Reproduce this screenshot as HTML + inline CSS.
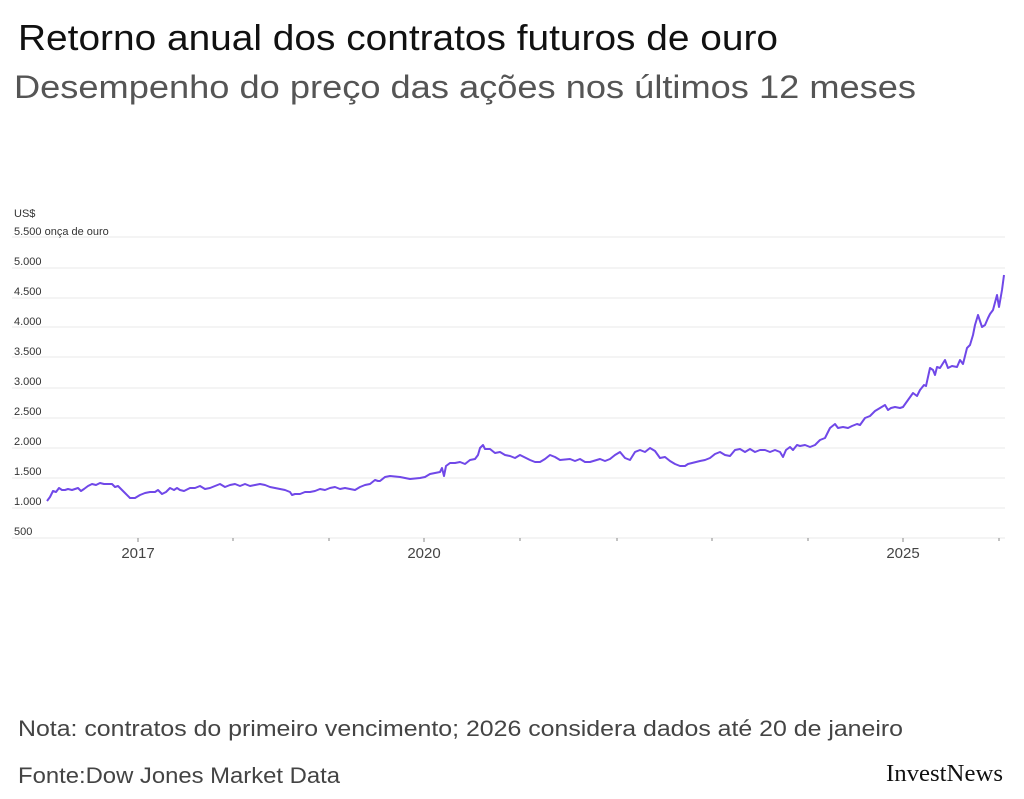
<!DOCTYPE html>
<html><head><meta charset="utf-8"><style>
html,body{margin:0;padding:0;background:#fff;}
svg{display:block;font-family:"Liberation Sans",sans-serif;}
</style></head><body>
<svg width="1024" height="799" viewBox="0 0 1024 799" xmlns="http://www.w3.org/2000/svg">
<text x="18" y="50" font-size="36" fill="#111" textLength="760" lengthAdjust="spacingAndGlyphs">Retorno anual dos contratos futuros de ouro</text>
<text x="14" y="98" font-size="32" fill="#555" textLength="902" lengthAdjust="spacingAndGlyphs">Desempenho do preço das ações nos últimos 12 meses</text>
<g stroke="#eeeeee" stroke-width="1.3">
<line x1="12" x2="1005" y1="237" y2="237"/><line x1="12" x2="1005" y1="268" y2="268"/>
<line x1="12" x2="1005" y1="298" y2="298"/><line x1="12" x2="1005" y1="327" y2="327"/>
<line x1="12" x2="1005" y1="357" y2="357"/><line x1="12" x2="1005" y1="388" y2="388"/>
<line x1="12" x2="1005" y1="418" y2="418"/><line x1="12" x2="1005" y1="448" y2="448"/>
<line x1="12" x2="1005" y1="478" y2="478"/><line x1="12" x2="1005" y1="508" y2="508"/>
<line x1="12" x2="1005" y1="538" y2="538"/>
</g>
<g font-size="11" fill="#333">
<text x="14" y="217">US$</text>
<text x="14" y="235">5.500 onça de ouro</text>
<text x="14" y="265">5.000</text><text x="14" y="295">4.500</text>
<text x="14" y="325">4.000</text><text x="14" y="355">3.500</text>
<text x="14" y="385">3.000</text><text x="14" y="415">2.500</text>
<text x="14" y="445">2.000</text><text x="14" y="475">1.500</text>
<text x="14" y="505">1.000</text><text x="14" y="535">500</text>
</g>
<g stroke="#888" stroke-width="1">
<line x1="138" x2="138" y1="538" y2="542"/><line x1="233" x2="233" y1="538" y2="541"/>
<line x1="329" x2="329" y1="538" y2="541"/><line x1="424" x2="424" y1="538" y2="542"/>
<line x1="520" x2="520" y1="538" y2="541"/><line x1="617" x2="617" y1="538" y2="541"/>
<line x1="712" x2="712" y1="538" y2="541"/><line x1="808" x2="808" y1="538" y2="541"/>
<line x1="903" x2="903" y1="538" y2="542"/><line x1="999" x2="999" y1="538" y2="541"/>
</g>
<g font-size="15" fill="#444" text-anchor="middle">
<text x="138" y="558">2017</text><text x="424" y="558">2020</text><text x="903" y="558">2025</text>
</g>
<polyline fill="none" stroke="#7048e8" stroke-width="2" stroke-linejoin="round" points="47,501 50,497 53,491 56,492 59,488 62,490 65,490 68,489 72,490 75,489 78,488 81,491 84,489 88,486 92,484 96,485 100,483 104,484 108,484 112,484 115,487 118,486 122,490 125,493 130,498 135,498 140,495 145,493 150,492 155,492 158,490 162,494 166,492 170,488 174,490 177,488 180,490 184,491 190,488 195,488 200,486 205,489 210,488 215,486 220,484 225,487 230,485 235,484 240,486 245,484 250,486 255,485 260,484 265,485 270,487 275,488 280,489 285,490 290,492 292,495 295,494 300,494 305,492 310,492 315,491 320,489 325,490 330,488 335,487 340,489 345,488 350,489 355,490 360,487 365,485 370,484 375,480 378,481 380,481 385,477 390,476 400,477 410,479 420,478 425,477 430,474 440,472 442,468 444,476 446,466 450,463 455,463 460,462 465,464 470,460 475,459 478,455 480,448 483,445 485,449 490,449 495,453 500,452 505,455 510,456 515,458 520,455 530,460 535,462 540,462 545,459 550,455 555,457 560,460 570,459 575,461 580,459 585,462 590,462 600,459 605,461 610,459 615,455 620,452 625,458 630,460 635,452 640,450 645,452 650,448 655,451 660,458 665,457 670,461 675,464 680,466 685,466 688,464 692,463 700,461 705,460 710,458 715,454 720,452 725,455 730,456 735,450 740,449 745,452 750,449 755,452 760,450 765,450 770,452 775,450 780,452 783,457 786,450 790,447 793,450 797,445 800,446 805,445 810,447 815,445 820,440 825,438 830,428 835,424 838,428 843,427 848,428 852,426 857,424 860,425 865,418 870,416 875,411 880,408 885,405 888,410 891,408 895,407 900,408 903,407 908,400 913,393 917,396 920,390 924,385 926,386 930,368 933,370 935,375 937,367 940,368 945,360 948,368 952,366 957,367 960,360 963,364 967,348 970,345 973,335 975,325 978,315 982,327 985,325 988,318 990,314 993,310 997,295 999,307 1002,290 1004,275"/>
<text x="18" y="736" font-size="22" fill="#444" textLength="885" lengthAdjust="spacingAndGlyphs">Nota: contratos do primeiro vencimento; 2026 considera dados até 20 de janeiro</text>
<text x="18" y="783" font-size="22" fill="#444" textLength="322" lengthAdjust="spacingAndGlyphs">Fonte:Dow Jones Market Data</text>
<text x="886" y="781" font-size="24" font-family="'Liberation Serif',serif" fill="#111" textLength="117" lengthAdjust="spacingAndGlyphs">InvestNews</text>
</svg>
</body></html>
